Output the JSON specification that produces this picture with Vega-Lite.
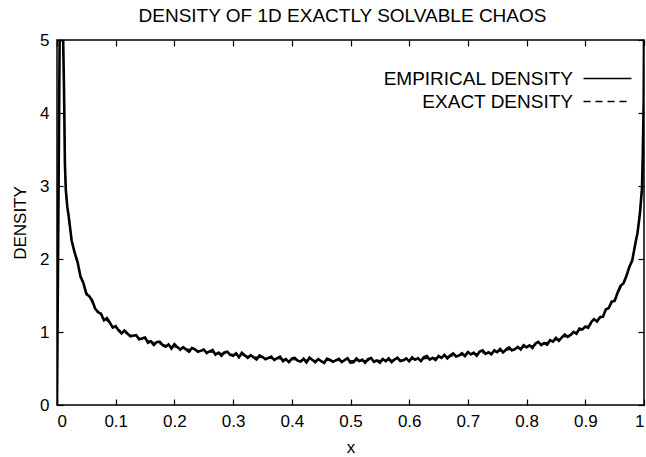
{
  "$schema": "https://vega.github.io/schema/vega-lite/v6.json",
  "autosize": {"type": "none"},
  "width": 587,
  "height": 365,
  "padding": {"left": 57, "top": 40, "right": 2, "bottom": 52},
  "background": "white",
  "config": {
    "font": "Liberation Sans",
    "view": {"stroke": "black", "strokeWidth": 1.5},
    "axis": {"grid": false, "domain": false, "tickColor": "black", "tickSize": -6, "tickWidth": 1.2, "labelFont": "Liberation Sans", "labelFontSize": 17, "labelColor": "black", "titleFont": "Liberation Sans", "titleFontSize": 17, "titleFontWeight": "normal", "titleColor": "black"},
    "legend": {"orient": "none", "legendX": 541, "legendY": 29, "symbolType": "M-4,0H4", "symbolSize": 144, "symbolStrokeColor": "black", "symbolStrokeWidth": 1.5, "labelAlign": "right", "labelOffset": -44, "labelLimit": 0, "labelFont": "Liberation Sans", "labelFontSize": 19, "labelColor": "black", "rowPadding": 3, "padding": 0, "title": null}
  },
  "title": {"text": "DENSITY OF 1D EXACTLY SOLVABLE CHAOS", "font": "Liberation Sans", "fontSize": 19, "fontWeight": "normal", "color": "black", "anchor": "middle", "baseline": "alphabetic", "offset": -10, "dx": -8},
  "datasets": {
    "empirical": [
      {"x":0,"y":0},{"x":0.0045,"y":5},{"x":0.0105,"y":5},{"x":0.012,"y":4.3},{"x":0.0135,"y":3.3},{"x":0.015,"y":2.95},{"x":0.0175,"y":2.72},
      {"x":0.02,"y":2.58},{"x":0.025,"y":2.25},{"x":0.03,"y":2.09},{"x":0.035,"y":1.96},{"x":0.04,"y":1.76},{"x":0.045,"y":1.67},{"x":0.05,"y":1.52},{"x":0.055,"y":1.49},{"x":0.06,"y":1.43},{"x":0.065,"y":1.32},{"x":0.07,"y":1.27},{"x":0.075,"y":1.25},{"x":0.08,"y":1.16},{"x":0.085,"y":1.19},{"x":0.09,"y":1.13},{"x":0.095,"y":1.06},{"x":0.1,"y":1.08},{"x":0.105,"y":1.02},{"x":0.11,"y":0.98},{"x":0.115,"y":1.02},{"x":0.12,"y":0.98},{"x":0.125,"y":0.94},{"x":0.13,"y":0.95},
      {"x":0.135,"y":0.957},{"x":0.14,"y":0.899},{"x":0.145,"y":0.912},{"x":0.15,"y":0.924},{"x":0.155,"y":0.853},{"x":0.16,"y":0.872},{"x":0.165,"y":0.823},{"x":0.17,"y":0.862},{"x":0.175,"y":0.866},{"x":0.18,"y":0.819},{"x":0.185,"y":0.798},{"x":0.19,"y":0.83},{"x":0.195,"y":0.774},{"x":0.2,"y":0.832},{"x":0.205,"y":0.795},{"x":0.21,"y":0.758},{"x":0.215,"y":0.792},{"x":0.22,"y":0.76},{"x":0.225,"y":0.729},{"x":0.23,"y":0.782},{"x":0.235,"y":0.762},{"x":0.24,"y":0.729},{"x":0.245,"y":0.743},
      {"x":0.25,"y":0.76},{"x":0.255,"y":0.712},{"x":0.26,"y":0.734},{"x":0.265,"y":0.753},{"x":0.27,"y":0.69},{"x":0.275,"y":0.717},{"x":0.28,"y":0.674},{"x":0.285,"y":0.72},{"x":0.29,"y":0.73},{"x":0.295,"y":0.688},{"x":0.3,"y":0.673},{"x":0.305,"y":0.708},{"x":0.31,"y":0.654},{"x":0.315,"y":0.715},{"x":0.32,"y":0.68},{"x":0.325,"y":0.646},{"x":0.33,"y":0.682},{"x":0.335,"y":0.652},{"x":0.34,"y":0.623},{"x":0.345,"y":0.678},{"x":0.35,"y":0.658},{"x":0.355,"y":0.628},{"x":0.36,"y":0.644},
      {"x":0.365,"y":0.663},{"x":0.37,"y":0.617},{"x":0.375,"y":0.641},{"x":0.38,"y":0.662},{"x":0.385,"y":0.6},{"x":0.39,"y":0.629},{"x":0.395,"y":0.587},{"x":0.4,"y":0.635},{"x":0.405,"y":0.646},{"x":0.41,"y":0.607},{"x":0.415,"y":0.594},{"x":0.42,"y":0.634},{"x":0.425,"y":0.584},{"x":0.43,"y":0.649},{"x":0.435,"y":0.618},{"x":0.44,"y":0.587},{"x":0.445,"y":0.628},{"x":0.45,"y":0.602},{"x":0.455,"y":0.576},{"x":0.46,"y":0.635},{"x":0.465,"y":0.619},{"x":0.47,"y":0.592},{"x":0.475,"y":0.611},
      {"x":0.48,"y":0.632},{"x":0.485,"y":0.589},{"x":0.49,"y":0.615},{"x":0.495,"y":0.639},{"x":0.5,"y":0.58},
      {"x":0.505,"y":0.586},{"x":0.51,"y":0.637},{"x":0.515,"y":0.601},{"x":0.52,"y":0.621},{"x":0.525,"y":0.579},{"x":0.53,"y":0.63},{"x":0.535,"y":0.643},{"x":0.54,"y":0.592},{"x":0.545,"y":0.611},{"x":0.55,"y":0.579},{"x":0.555,"y":0.63},{"x":0.56,"y":0.6},{"x":0.565,"y":0.639},{"x":0.57,"y":0.588},{"x":0.575,"y":0.623},{"x":0.58,"y":0.648},{"x":0.585,"y":0.602},{"x":0.59,"y":0.613},{"x":0.595,"y":0.639},
      {"x":0.6,"y":0.599},{"x":0.605,"y":0.652},{"x":0.61,"y":0.619},{"x":0.615,"y":0.641},{"x":0.62,"y":0.601},{"x":0.625,"y":0.655},{"x":0.63,"y":0.67},{"x":0.635,"y":0.622},{"x":0.64,"y":0.645},{"x":0.645,"y":0.616},{"x":0.65,"y":0.67},{"x":0.655,"y":0.645},{"x":0.66,"y":0.687},{"x":0.665,"y":0.639},{"x":0.67,"y":0.678},{"x":0.675,"y":0.707},{"x":0.68,"y":0.664},{"x":0.685,"y":0.679},{"x":0.69,"y":0.709},
      {"x":0.695,"y":0.67},{"x":0.7,"y":0.725},{"x":0.705,"y":0.692},{"x":0.71,"y":0.716},{"x":0.715,"y":0.676},{"x":0.72,"y":0.731},{"x":0.725,"y":0.748},{"x":0.73,"y":0.7},{"x":0.735,"y":0.723},{"x":0.74,"y":0.695},{"x":0.745,"y":0.749},{"x":0.75,"y":0.724},{"x":0.755,"y":0.767},{"x":0.76,"y":0.72},{"x":0.765,"y":0.76},{"x":0.77,"y":0.789},{"x":0.775,"y":0.748},{"x":0.78,"y":0.764},{"x":0.785,"y":0.796},
      {"x":0.79,"y":0.761},{"x":0.795,"y":0.819},{"x":0.8,"y":0.79},{"x":0.805,"y":0.818},{"x":0.81,"y":0.782},{"x":0.815,"y":0.842},{"x":0.82,"y":0.864},{"x":0.825,"y":0.821},{"x":0.83,"y":0.849},{"x":0.835,"y":0.827},{"x":0.84,"y":0.887},{"x":0.845,"y":0.869},{"x":0.85,"y":0.919},{"x":0.855,"y":0.879},{"x":0.86,"y":0.926},{"x":0.865,"y":0.965},{"x":0.87,"y":0.933},{"x":0.875,"y":0.959},{"x":0.88,"y":1.001},
      {"x":0.885,"y":0.977},{"x":0.89,"y":1.047},{"x":0.895,"y":1.033},{"x":0.9,"y":1.075},{"x":0.905,"y":1.057},{"x":0.91,"y":1.134},{"x":0.915,"y":1.176},{"x":0.92,"y":1.143},{"x":0.925,"y":1.202},{"x":0.93,"y":1.209},{"x":0.935,"y":1.309},{"x":0.94,"y":1.329},{"x":0.945,"y":1.417},{"x":0.95,"y":1.425},{"x":0.955,"y":1.539},{"x":0.96,"y":1.633},{"x":0.965,"y":1.666},{"x":0.97,"y":1.766},{"x":0.975,"y":1.891},
      {"x":0.98,"y":1.98},{"x":0.985,"y":2.2},{"x":0.989,"y":2.36},{"x":0.993,"y":2.62},{"x":0.9966,"y":2.97},{"x":0.998,"y":3.45},{"x":0.9995,"y":4.18},{"x":1,"y":5}
    ],
    "exact": [
      {"x":0.0105,"y":5},{"x":0.012,"y":4.3},{"x":0.0135,"y":3.3},{"x":0.015,"y":2.95},{"x":0.0175,"y":2.72},{"x":0.02,"y":2.55},{"x":0.025,"y":2.27},{"x":0.03,"y":2.08},{"x":0.04,"y":1.79},{"x":0.05,"y":1.55},{"x":0.06,"y":1.4},{"x":0.07,"y":1.29},{"x":0.08,"y":1.19},{"x":0.09,"y":1.12},{"x":0.1,"y":1.06},{"x":0.11,"y":1.01},{"x":0.12,"y":0.97},{"x":0.13,"y":0.9465},{"x":0.14,"y":0.917},{"x":0.16,"y":0.868},{"x":0.18,"y":0.829},{"x":0.2,"y":0.796},{"x":0.22,"y":0.768},{"x":0.25,"y":0.735},{"x":0.28,"y":0.709},{"x":0.3,"y":0.695},{"x":0.32,"y":0.674},{"x":0.35,"y":0.647},{"x":0.38,"y":0.63},{"x":0.4,"y":0.62},{"x":0.45,"y":0.61},{"x":0.5,"y":0.607},{"x":0.55,"y":0.61},{"x":0.6,"y":0.62},{"x":0.62,"y":0.63},{"x":0.65,"y":0.651},{"x":0.68,"y":0.678},{"x":0.7,"y":0.695},{"x":0.72,"y":0.709},{"x":0.75,"y":0.735},{"x":0.78,"y":0.768},{"x":0.8,"y":0.796},{"x":0.82,"y":0.829},{"x":0.84,"y":0.868},{"x":0.86,"y":0.917},{"x":0.88,"y":0.98},{"x":0.9,"y":1.061},{"x":0.92,"y":1.16},{"x":0.94,"y":1.34},{"x":0.95,"y":1.45},{"x":0.96,"y":1.6},{"x":0.97,"y":1.77},{"x":0.98,"y":2.0},{"x":0.985,"y":2.18},{"x":0.989,"y":2.36},{"x":0.993,"y":2.62},{"x":0.9966,"y":2.97},{"x":0.998,"y":3.45},{"x":0.9995,"y":4.18},{"x":1,"y":5}
    ]
  },
  "layer": [
    {
      "data": {"name": "exact"},
      "mark": {"type": "line", "stroke": "black", "strokeWidth": 1.2, "clip": true},
      "encoding": {
        "x": {"field": "x", "type": "quantitative", "scale": {"domain": [0, 1], "nice": false}, "axis": {"orient": "bottom", "values": [0,0.1,0.2,0.3,0.4,0.5,0.6,0.7,0.8,0.9,1], "format": "~g", "labelPadding": 14, "title": "x", "titlePadding": 10}},
        "y": {"field": "y", "type": "quantitative", "scale": {"domain": [0, 5], "nice": false}, "axis": {"orient": "left", "values": [0,1,2,3,4,5], "format": "d", "labelPadding": 14, "title": "DENSITY", "titlePadding": 10}},
        "strokeDash": {"datum": "EXACT DENSITY", "type": "nominal", "scale": {"domain": ["EMPIRICAL DENSITY", "EXACT DENSITY"], "range": [[1, 0], [7, 5]]}}
      }
    },
    {
      "data": {"name": "empirical"},
      "mark": {"type": "line", "stroke": "black", "strokeWidth": 2.6, "clip": true},
      "encoding": {
        "x": {"field": "x", "type": "quantitative", "axis": {"orient": "top", "values": [0,0.1,0.2,0.3,0.4,0.5,0.6,0.7,0.8,0.9,1], "labels": false, "title": null, "minExtent": 0, "maxExtent": 0}},
        "y": {"field": "y", "type": "quantitative", "axis": {"orient": "right", "values": [0,1,2,3,4,5], "labels": false, "title": null, "minExtent": 0, "maxExtent": 0}},
        "strokeDash": {"datum": "EMPIRICAL DENSITY", "type": "nominal"}
      }
    }
  ],
  "resolve": {"axis": {"x": "independent", "y": "independent"}}
}
